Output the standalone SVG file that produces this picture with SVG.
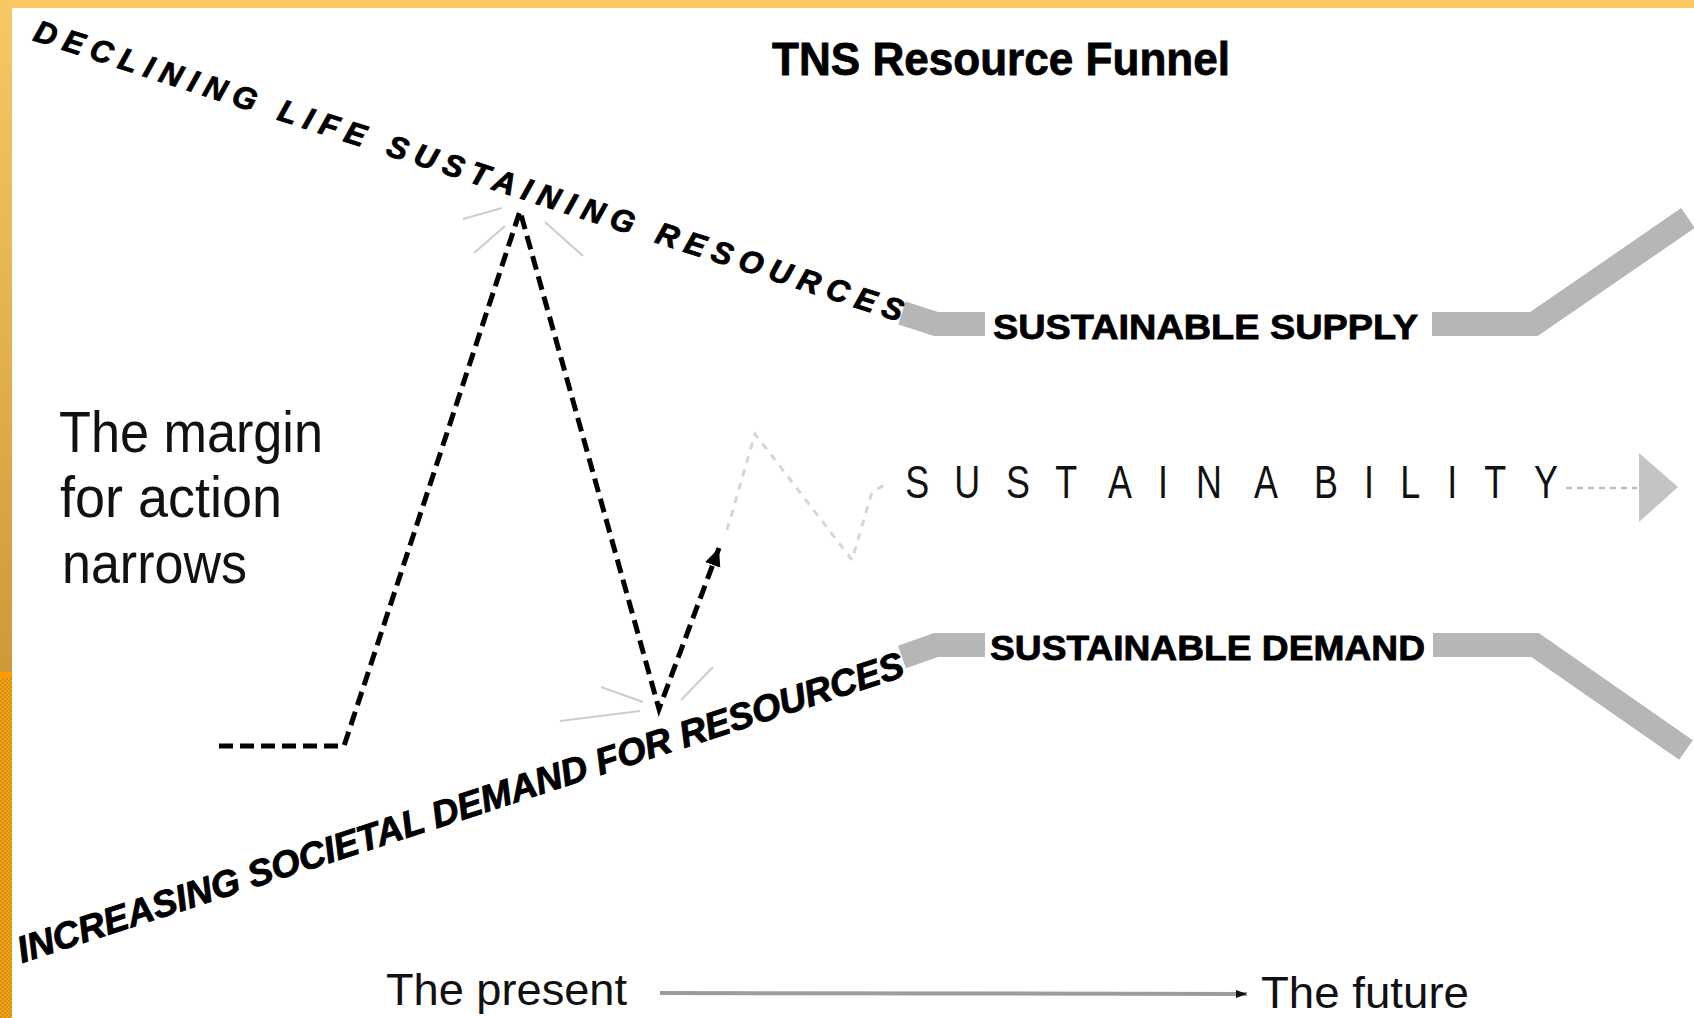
<svg xmlns="http://www.w3.org/2000/svg" width="1694" height="1018" viewBox="0 0 1694 1018">
  <defs>
    <linearGradient id="leftband" x1="0" y1="0" x2="0" y2="1">
      <stop offset="0" stop-color="#F9C866"/>
      <stop offset="1" stop-color="#CC9A3A"/>
    </linearGradient>
    <pattern id="chk" width="4" height="4" patternUnits="userSpaceOnUse">
      <rect width="4" height="4" fill="#F0A21A"/>
      <rect width="2" height="2" fill="#D98D0E"/>
      <rect x="2" y="2" width="2" height="2" fill="#D98D0E"/>
    </pattern>
    <marker id="blackhead" markerWidth="20" markerHeight="18" refX="18" refY="9" orient="auto" markerUnits="userSpaceOnUse">
      <path d="M0,1 L18,9 L0,17 Z" fill="#000"/>
    </marker>
    <marker id="smallhead" markerWidth="12" markerHeight="10" refX="11" refY="5" orient="auto" markerUnits="userSpaceOnUse">
      <path d="M0,1 L11,5 L0,9 Z" fill="#111"/>
    </marker>
    <style>
      .band { fill: none; stroke: #B6B6B6; stroke-width: 24; stroke-linejoin: miter; stroke-linecap: butt; }
      .ray { stroke: #CDCDCD; stroke-width: 2; fill: none; }
      .bold { font-family: "Liberation Sans", Arial, sans-serif; font-weight: bold; fill: #000; stroke: #000; stroke-width: 0.8; }
      .slant { font-family: "Liberation Sans", Arial, sans-serif; font-weight: bold; font-style: italic; fill: #000; stroke: #000; stroke-width: 0.9; }
      .label { font-family: "Liberation Sans", Arial, sans-serif; fill: #111; }
    </style>
  </defs>

  <rect x="0" y="0" width="1694" height="1018" fill="#FFFFFF"/>

  <g id="frame">
    <rect x="0" y="0" width="1694" height="8" fill="#FAC965"/>
    <rect x="0" y="0" width="12" height="672" fill="url(#leftband)"/>
    <rect x="0" y="672" width="12" height="346" fill="url(#chk)"/>
    <rect x="0" y="672" width="12" height="6" fill="#FF9A00"/>
  </g>

  <g id="title">
    <text class="bold" x="772" y="75" font-size="46" textLength="458" lengthAdjust="spacingAndGlyphs">TNS Resource Funnel</text>
  </g>

  <g id="declining-supply">
    <text class="slant" transform="translate(32,40) rotate(18)" font-size="31" textLength="912" lengthAdjust="spacing">DECLINING LIFE SUSTAINING RESOURCES</text>
  </g>

  <g id="increasing-demand">
    <text class="slant" transform="translate(22,963) rotate(-18)" font-size="37" textLength="930" lengthAdjust="spacing">INCREASING SOCIETAL DEMAND FOR RESOURCES</text>
  </g>

  <g id="sustainable-supply">
    <polyline class="band" points="902,313 936,324 985,324"/>
    <polyline class="band" points="1432,324 1534,324 1688,218"/>
    <text class="bold" x="993" y="339" font-size="35" textLength="425" lengthAdjust="spacingAndGlyphs">SUSTAINABLE SUPPLY</text>
  </g>

  <g id="sustainable-demand">
    <polyline class="band" points="902,657 936,645 985,645"/>
    <polyline class="band" points="1433,645 1535,645 1686,750"/>
    <text class="bold" x="990" y="660" font-size="35" textLength="435" lengthAdjust="spacingAndGlyphs">SUSTAINABLE DEMAND</text>
  </g>

  <g id="margin-text">
    <text class="label" x="59" y="452" font-size="58" textLength="264" lengthAdjust="spacingAndGlyphs">The margin</text>
    <text class="label" x="60" y="517" font-size="58" textLength="222" lengthAdjust="spacingAndGlyphs">for action</text>
    <text class="label" x="62" y="583" font-size="58" textLength="185" lengthAdjust="spacingAndGlyphs">narrows</text>
  </g>

  <g id="sustainability">
    <g transform="translate(0,498) scale(0.78,1)">
      <text class="label" y="0" font-size="46" text-anchor="middle" fill="#1a1a1a" x="1176 1240 1305 1367 1436 1491 1550 1623 1700 1755 1808 1862 1917 1982">SUSTAINABILITY</text>
    </g>
  </g>

  <g id="timeline">
    <text class="label" x="386" y="1005" font-size="45" textLength="241" lengthAdjust="spacingAndGlyphs">The present</text>
    <text class="label" x="1261" y="1008" font-size="44" textLength="208" lengthAdjust="spacingAndGlyphs">The future</text>
  </g>

  <g id="connectors">
    <path d="M219,746 L344,746 L520,211 L659,709 L719,548" fill="none" stroke="#000" stroke-width="5" stroke-dasharray="14 7" marker-end="url(#blackhead)"/>
    <g id="sparkles">
      <line class="ray" x1="463" y1="219" x2="502" y2="208"/>
      <line class="ray" x1="474" y1="253" x2="505" y2="226"/>
      <line class="ray" x1="545" y1="222" x2="583" y2="256"/>
      <line class="ray" x1="601" y1="687" x2="643" y2="702"/>
      <line class="ray" x1="560" y1="721" x2="640" y2="711"/>
      <line class="ray" x1="681" y1="700" x2="713" y2="667"/>
    </g>
    <polyline points="727,530 755,434 852,560 872,492 886,484" fill="none" stroke="#D6D6D6" stroke-width="3" stroke-dasharray="7 7"/>
    <line x1="1566" y1="488" x2="1637" y2="488" stroke="#BDBDBD" stroke-width="2.5" stroke-dasharray="6 5"/>
    <polygon points="1639,453 1678,487 1639,522" fill="#C4C4C4"/>
    <line x1="660" y1="993" x2="1247" y2="994" stroke="#9C9C9C" stroke-width="4" marker-end="url(#smallhead)"/>
  </g>
</svg>
